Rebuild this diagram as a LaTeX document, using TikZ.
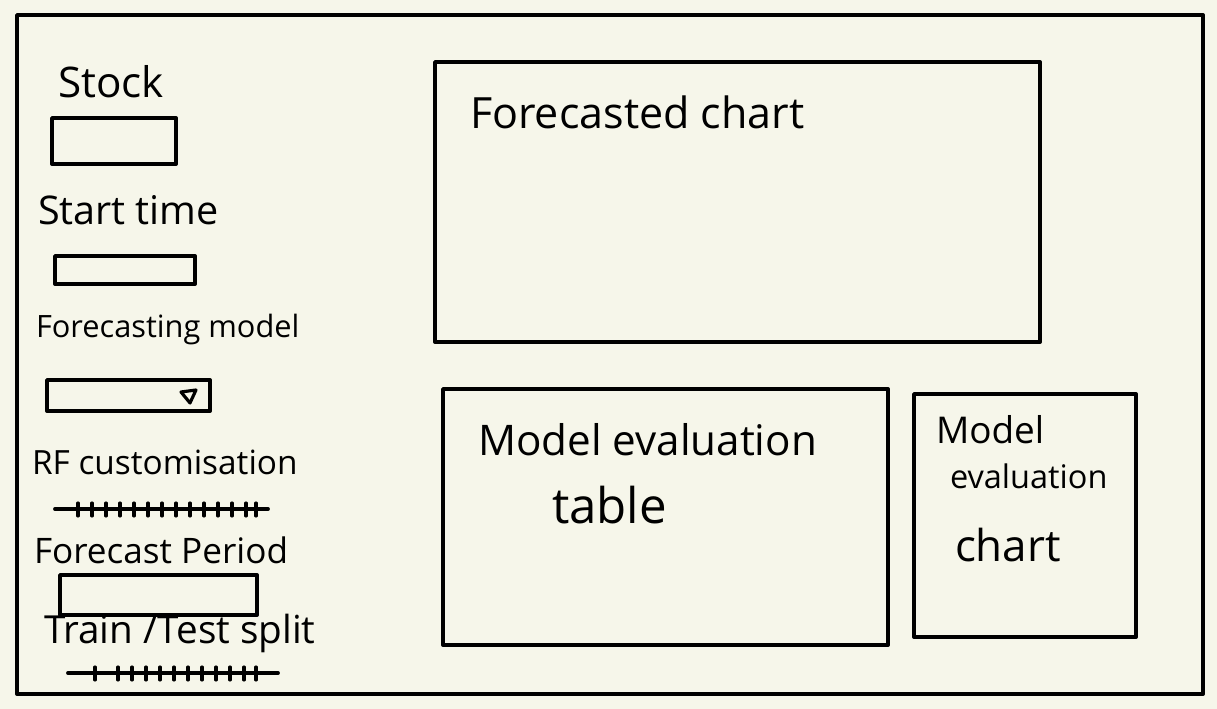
\documentclass[tikz,border=0pt]{standalone}
\usepackage{fontspec}
\setmainfont{Open Sans}
\definecolor{paper}{HTML}{F6F6EA}
\begin{document}
\begin{tikzpicture}[x=0.02cm, y=-0.02cm, line width=2.2pt, line join=round, line cap=round,
	every node/.style={anchor=west, inner sep=0pt, outer sep=0pt},
	hand/.style={font=\fontsize{#1}{#1}\selectfont}]
	
	% Hintergrund und Rahmen
	\fill[paper] (0, 0) rectangle (1217, 709);
	\useasboundingbox (0, 0) rectangle (1217, 709);
	\draw (17, 15) rectangle (1203, 694);
	
	% Seitenleiste
	\node[hand=24] (stock) at (58, 82) {Stock};
	\draw (52, 118) rectangle (176, 164);
	\node[hand=22.5] (start) at (38, 210) {Start time};
	\draw (55, 256) rectangle (195, 284);
	\node[hand=17.5] (model) at (36, 330) {Forecasting model};
	\draw (47, 380) rectangle (210, 411);
	\draw[line width=1.8pt] (181, 392) -- (196, 390) -- (190, 403) -- cycle;
	\node[hand=19] (rf) at (32, 462) {RF customisation};
	\draw (55, 509) -- (268, 509);
	\foreach \x in {78, 92, 106, 120, 134, 148, 162, 176, 190, 204, 218, 232, 246, 256}
		\draw[line width=1.8pt] (\x, 503) -- (\x, 516);
	\node[hand=20] (period) at (34, 550) {Forecast Period};
	\draw (60, 575) rectangle (257, 615);
	\node[hand=22] (split) at (44, 633) {Train /Test split};
	\draw (68, 673) -- (278, 673);
	\foreach \x in {95, 118, 132, 146, 160, 174, 188, 202, 216, 230, 244, 256}
		\draw[line width=1.8pt] (\x, 667) -- (\x, 680);
	
	% Diagramme
	\draw (435, 62) rectangle (1040, 342);
	\node[hand=24.5] (fchart) at (470, 112) {Forecasted chart};
	\draw (443, 389) rectangle (888, 645);
	\node[hand=24] (etable) at (478, 440) {Model evaluation};
	\node[hand=28] (etable2) at (552, 505) {table};
	\draw (914, 394) rectangle (1136, 637);
	\node[hand=21] (echart) at (936, 430) {Model};
	\node[hand=18.5] (echart2) at (950, 476) {evaluation};
	\node[hand=25] (echart3) at (955, 545) {chart};
\end{tikzpicture}
\end{document}
